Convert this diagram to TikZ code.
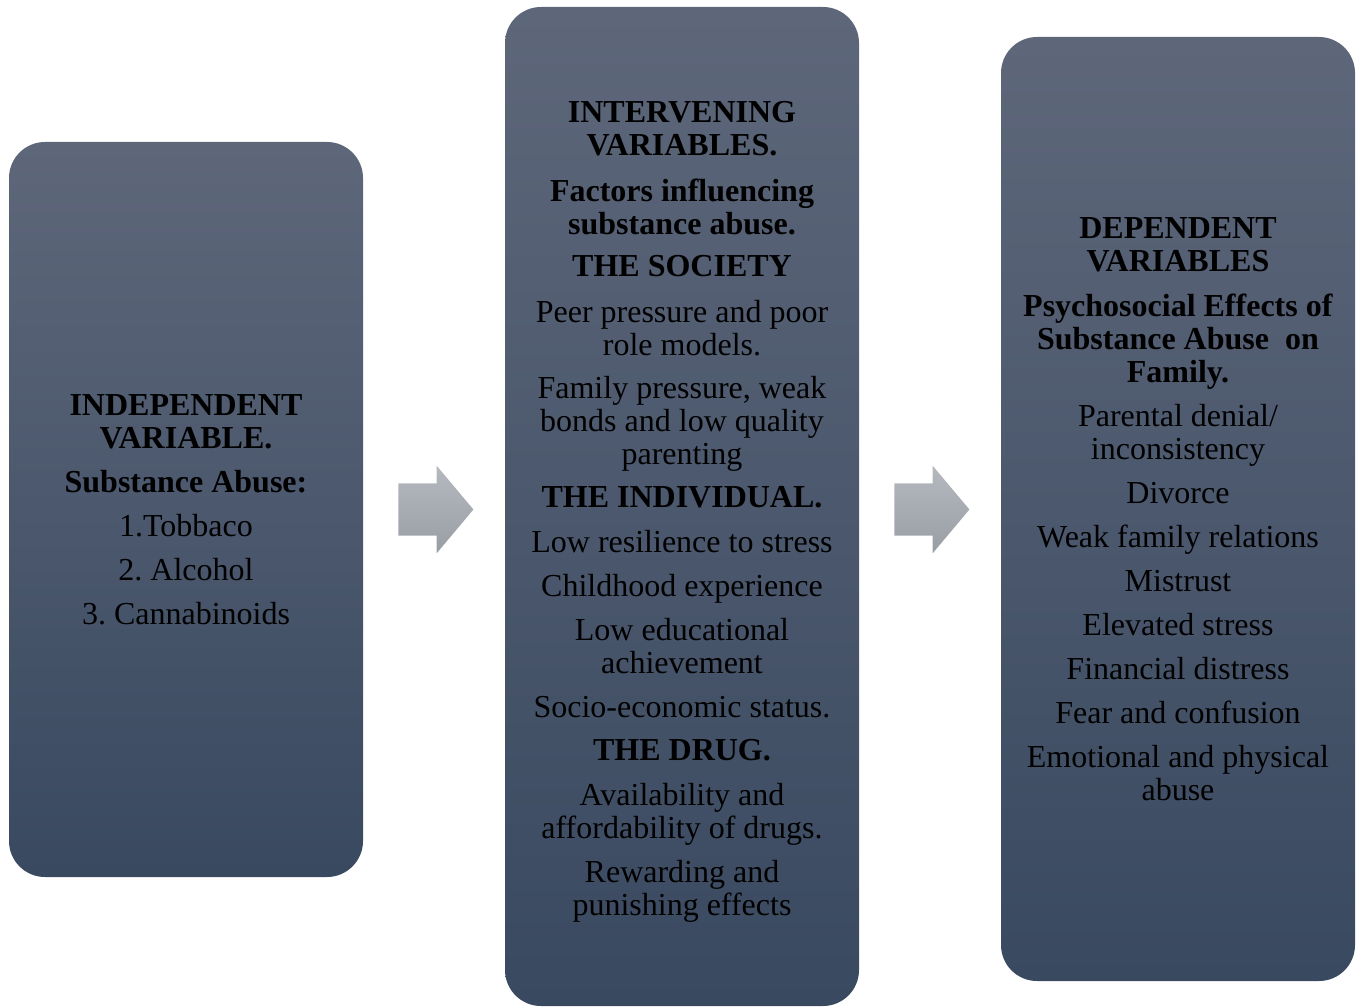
\documentclass[tikz,border=0pt]{standalone}
\usepackage{fontspec}
\setmainfont{Liberation Serif}
\frenchspacing
\usetikzlibrary{shapes.arrows}
\definecolor{boxtop}{HTML}{5E677A}
\definecolor{boxbot}{HTML}{394960}
\definecolor{arrtop}{HTML}{B5B9BF}
\definecolor{arrbot}{HTML}{999EA5}
\tikzset{
  varbox/.style={rectangle, rounded corners=36pt, top color=boxtop, bottom color=boxbot,
    minimum width=354pt, inner sep=0pt, align=center, text=black,
    font=\fontsize{32}{33}\selectfont},
  blockarrow/.style={single arrow, top color=arrtop, bottom color=arrbot, inner sep=0pt,
    text height=52pt, text depth=0pt, minimum width=87pt, minimum height=75pt,
    single arrow head extend=17.5pt, single arrow tip angle=100, anchor=tail}
}
\begin{document}
\begin{tikzpicture}[x=1pt,y=-1pt]
\useasboundingbox (0,0) rectangle (1359,1008);
% independent variable
\node[varbox, minimum height=735pt] (indep) at (186,509.5)
  {\textbf{INDEPENDENT}\\\textbf{VARIABLE.}\\[11pt]
   \textbf{Substance Abuse:}\\[11pt]
   1.Tobbaco\\[11pt]
   2. Alcohol\\[11pt]
   3. Cannabinoids};
% intervening variables
\node[varbox, minimum height=999pt] (interv) at (682,506.5)
  {\rule{0pt}{31pt}\textbf{INTERVENING}\\\textbf{VARIABLES.}\\[13pt]
   \textbf{Factors influencing}\\\textbf{substance abuse.}\\[9pt]
   \textbf{THE SOCIETY}\\[13pt]
   Peer pressure and poor\\role models.\\[10pt]
   Family pressure, weak\\bonds and low quality\\parenting\\[10pt]
   \textbf{THE INDIVIDUAL.}\\[12pt]
   Low resilience to stress\\[11pt]
   Childhood experience\\[11pt]
   Low educational\\achievement\\[11pt]
   Socio-economic status.\\[10pt]
   \textbf{THE DRUG.}\\[12pt]
   Availability and\\affordability of drugs.\\[11pt]
   Rewarding and\\punishing effects};
% dependent variables
\node[varbox, minimum height=944pt] (dep) at (1178,509)
  {\textbf{DEPENDENT}\\\textbf{VARIABLES}\\[12pt]
   \textbf{Psychosocial Effects of}\\\textbf{Substance Abuse\ \ on}\\\textbf{Family.}\\[11pt]
   Parental denial/\\inconsistency\\[11pt]
   Divorce\\[11pt]
   Weak family relations\\[11pt]
   Mistrust\\[11pt]
   Elevated stress\\[11pt]
   Financial distress\\[11pt]
   Fear and confusion\\[11pt]
   Emotional and physical\\abuse};
% arrows
\node[blockarrow] (a1) at ([xshift=35pt]indep.east) {};
\node[blockarrow] (a2) at ([xshift=35pt]interv.east |- indep.east) {};
\end{tikzpicture}
\end{document}
